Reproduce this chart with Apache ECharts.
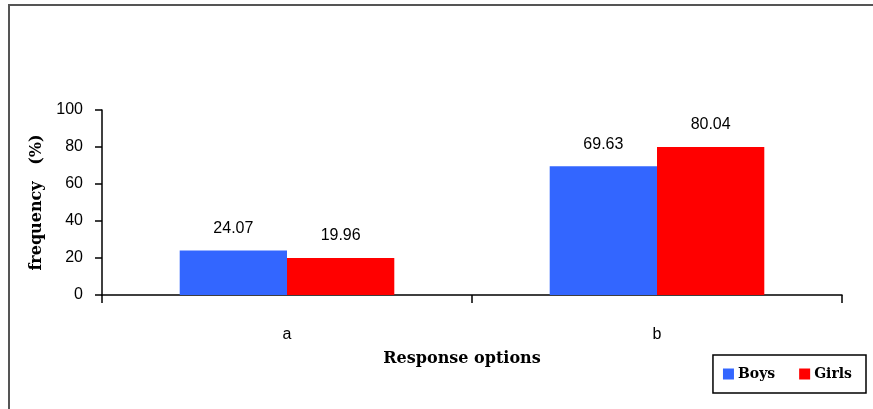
<!DOCTYPE html>
<html><head><meta charset="utf-8">
<script src="https://cdn.jsdelivr.net/npm/echarts@6/dist/echarts.min.js"></script>
<style>html,body{margin:0;padding:0;background:#fff}#c{width:873px;height:409px}</style>
</head><body><div id="c"></div>
<script>
const categories = ['a', 'b'];
const boys = [24.07, 69.63];
const girls = [19.96, 80.04];
const yTicks = [0, 20, 40, 60, 80, 100];
const seriesNames = ['Boys', 'Girls'];

const chart = echarts.init(document.getElementById('c'));
const labelFont = {fontFamily: 'Liberation Sans', fontSize: 16, color: '#000'};
const nameFont = {fontFamily: 'DejaVu Serif', fontWeight: 'bold', fontSize: 16, color: '#000'};
chart.setOption({
  animation: false,
  graphic: [{type: 'rect', shape: {x: 9, y: 5, width: 900, height: 450}, style: {fill: 'none', stroke: '#555', lineWidth: 2}, silent: true}],
  legend: {
    right: 7, bottom: 16, orient: 'horizontal',
    data: seriesNames,
    itemWidth: 11, itemHeight: 11, itemGap: 24,
    borderColor: '#000', borderWidth: 1.5, padding: [12, 14, 12, 10],
    icon: 'rect',
    textStyle: Object.assign({}, nameFont, {fontSize: 14, padding: [0, 0, 0, -1]})
  },
  grid: {left: 102, right: 31, top: 110, bottom: 114, containLabel: false},
  xAxis: {
    type: 'category', data: categories,
    name: 'Response options', nameLocation: 'middle', nameGap: 56,
    nameTextStyle: Object.assign({}, nameFont, {padding: [0, 20, 0, 0]}),
    axisLine: {lineStyle: {color: '#000', width: 1.5}},
    axisTick: {show: true, length: 8, lineStyle: {color: '#000', width: 1.5}},
    axisLabel: Object.assign({margin: 32}, labelFont)
  },
  yAxis: {
    type: 'value', min: 0, max: 100, interval: 20,
    name: 'frequency   (%)', nameLocation: 'middle', nameGap: 57, nameRotate: 90,
    nameTextStyle: nameFont,
    axisLine: {show: true, lineStyle: {color: '#000', width: 1.5}},
    axisTick: {show: true, length: 7, lineStyle: {color: '#000', width: 1.5}},
    splitLine: {show: false},
    axisLabel: Object.assign({margin: 19, formatter: v => yTicks.includes(v) ? String(v) : ''}, labelFont)
  },
  series: [
    {name: seriesNames[0], type: 'bar', data: boys, barGap: '0%', barCategoryGap: '42%',
     itemStyle: {color: '#3366FF'},
     label: Object.assign({show: true, position: 'top', distance: 14, formatter: p => p.value.toFixed(2)}, labelFont)},
    {name: seriesNames[1], type: 'bar', data: girls,
     itemStyle: {color: '#FF0000'},
     label: Object.assign({show: true, position: 'top', distance: 14, formatter: p => p.value.toFixed(2)}, labelFont)}
  ]
});
</script></body></html>
